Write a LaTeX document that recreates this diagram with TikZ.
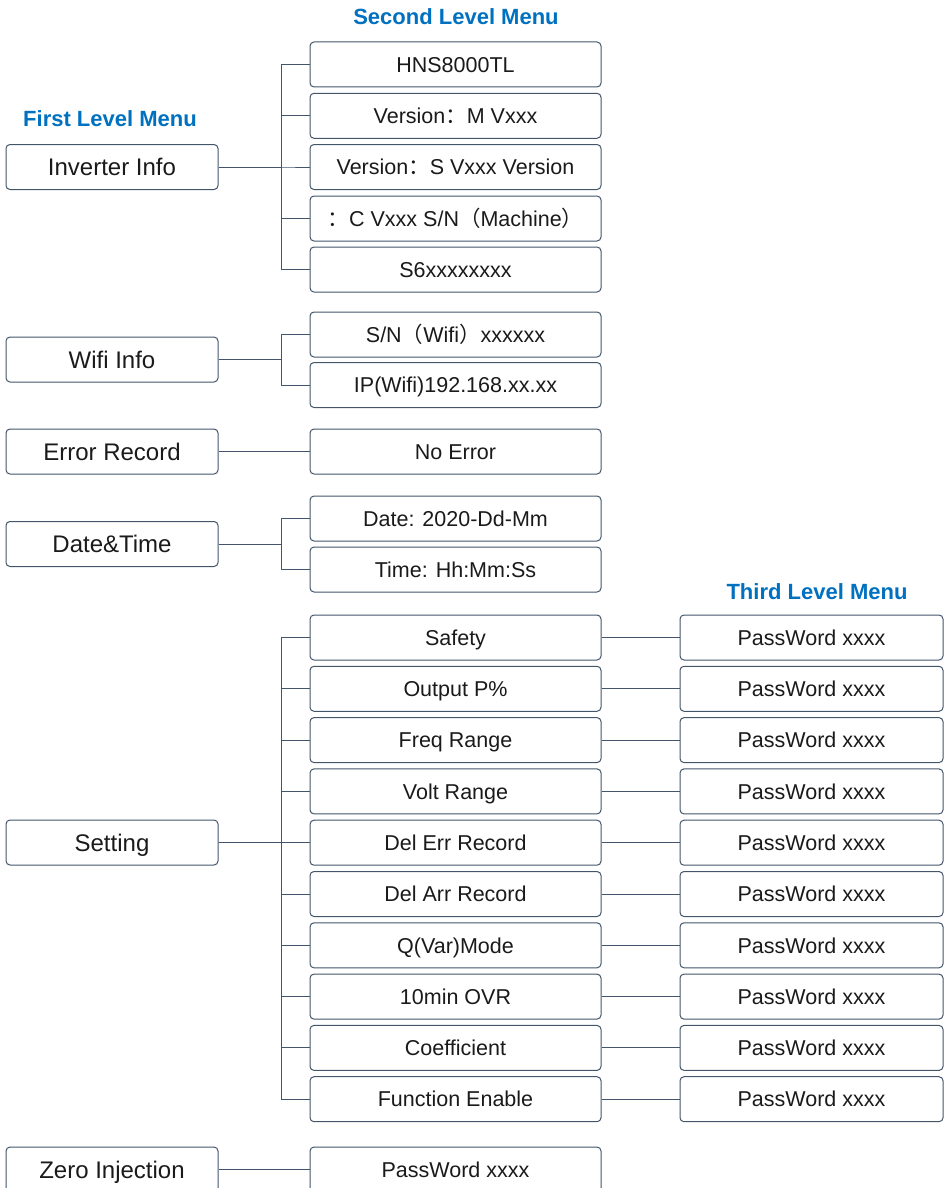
\documentclass[tikz,border=0pt]{standalone}
\usepackage{fontspec}
\setmainfont{Liberation Sans}
\newfontfamily\cjk{Noto Sans CJK SC}
\definecolor{boxline}{HTML}{44546A}
\definecolor{headblue}{HTML}{0070C0}
\definecolor{txt}{HTML}{1A1A1A}
\tikzset{
  menubox/.style={draw=boxline, line width=1pt, rounded corners=4pt, inner sep=0pt, minimum height=45pt, text=txt, anchor=center, text depth=0pt},
  lone/.style={menubox, minimum width=212pt, font=\fontsize{24}{28}\selectfont, text height=17.2pt},
  ltwo/.style={menubox, minimum width=291pt, font=\fontsize{21.5}{26}\selectfont, text height=15.4pt},
  lthree/.style={menubox, minimum width=263pt, font=\fontsize{21.5}{26}\selectfont, text height=15.4pt},
  head/.style={text=headblue, font=\fontsize{22}{26}\selectfont\bfseries},
  conn/.style={draw=boxline, line width=1pt},
}
\begin{document}
\begin{tikzpicture}[x=1pt, y=-1pt]
\useasboundingbox (0,0) rectangle (944,1188);
\clip (0,0) rectangle (944,1188);
% headers
\node[head] (h2) at (456,17) {Second Level Menu};
\node[head] (h1) at (110,119) {First Level Menu};
\node[head] (h3) at (817,592) {Third Level Menu};
% bus coordinate
\coordinate (bus) at (281,0);
% Inverter Info
\node[lone] (inv) at (112,167) {Inverter Info};
\node[ltwo] (i1) at (455.5,64.5) {HNS8000TL};
\node[ltwo] (i2) at (455.5,115.8) {Version{\cjk ：}M Vxxx};
\node[ltwo] (i3) at (455.5,167) {Version{\cjk ：}S Vxxx Version};
\node[ltwo] (i4) at (455.5,218.5) {{\cjk ：}C Vxxx S/N{\cjk （}Machine{\cjk ）}};
\node[ltwo] (i5) at (455.5,269.5) {S6xxxxxxxx};
\foreach \c in {i1,i2,i3,i4,i5}
  \draw[conn] (inv.east) -- (inv.east -| bus) |- (\c.west);
% Wifi Info
\node[lone] (wifi) at (112,359.5) {Wifi Info};
\node[ltwo] (w1) at (455.5,334.5) {S/N{\cjk （}Wifi{\cjk ）}xxxxxx};
\node[ltwo] (w2) at (455.5,385) {IP(Wifi)192.168.xx.xx};
\foreach \c in {w1,w2}
  \draw[conn] (wifi.east) -- (wifi.east -| bus) |- (\c.west);
% Error Record
\node[lone] (err) at (112,451.5) {Error Record};
\node[ltwo] (e1) at (455.5,451.5) {No Error};
\draw[conn] (err.east) -- (e1.west);
% Date&Time
\node[lone] (dt) at (112,544) {Date\&Time};
\node[ltwo] (d1) at (455.5,518.5) {Date: 2020-Dd-Mm};
\node[ltwo] (d2) at (455.5,569.5) {Time: Hh:Mm:Ss};
\foreach \c in {d1,d2}
  \draw[conn] (dt.east) -- (dt.east -| bus) |- (\c.west);
% Setting
\node[lone] (set) at (112,842.5) {Setting};
\foreach \t [count=\k from 0] in {Safety,Output P\%,Freq Range,Volt Range,Del Err Record,Del Arr Record,Q(Var)Mode,10min OVR,Coefficient,Function Enable}{
  \node[ltwo] (s\k) at (455.5,{637.5+51.3*\k}) {\t};
  \node[lthree] (p\k) at (811.5,{637.5+51.3*\k}) {PassWord xxxx};
  \draw[conn] (set.east) -- (set.east -| bus) |- (s\k.west);
  \draw[conn] (s\k.east) -- (p\k.west);
}
% Zero Injection
\node[lone] (zero) at (112,1169.5) {Zero Injection};
\node[ltwo] (z1) at (455.5,1169.5) {PassWord xxxx};
\draw[conn] (zero.east) -- (z1.west);
\end{tikzpicture}
\end{document}
